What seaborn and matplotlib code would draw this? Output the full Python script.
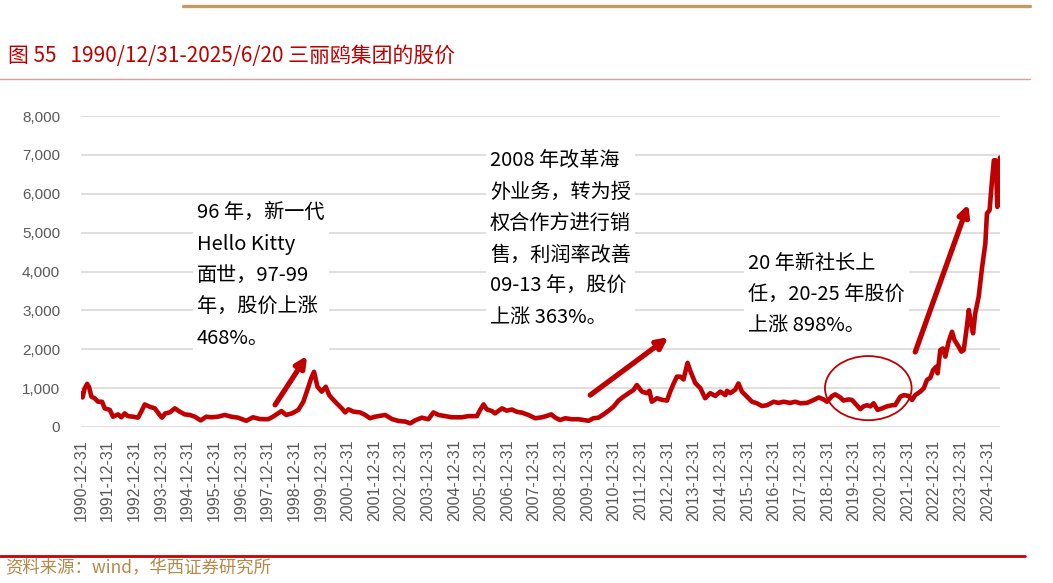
import matplotlib.pyplot as plt
import pandas as pd
import seaborn as sns
from matplotlib.lines import Line2D
from matplotlib.patches import Ellipse

# 股价走势，x 为年份小数
years = [
    1991.00, 1991.06, 1991.13, 1991.23, 1991.30, 1991.39, 1991.51, 1991.64, 1991.79, 1991.89,
    1992.08, 1992.20, 1992.39, 1992.51, 1992.64, 1992.76, 1992.95, 1993.14, 1993.26, 1993.39,
    1993.58, 1993.77, 1993.95, 1994.04, 1994.16, 1994.33, 1994.52, 1994.70, 1994.89, 1995.08,
    1995.27, 1995.49, 1995.70, 1995.89, 1996.14, 1996.39, 1996.64, 1996.89, 1997.20, 1997.45,
    1997.71, 1998.02, 1998.20, 1998.39, 1998.52, 1998.70, 1998.91, 1999.15, 1999.34, 1999.53,
    1999.63, 1999.74, 1999.87, 2000.03, 2000.18, 2000.31, 2000.41, 2000.59, 2000.78, 2000.91,
    2001.03, 2001.22, 2001.47, 2001.66, 2001.84, 2002.03, 2002.41, 2002.66, 2002.91, 2003.16,
    2003.35, 2003.53, 2003.78, 2004.03, 2004.22, 2004.41, 2004.66, 2004.91, 2005.29, 2005.53,
    2005.85, 2005.97, 2006.10, 2006.22, 2006.41, 2006.53, 2006.79, 2006.97, 2007.16, 2007.35,
    2007.54, 2007.78, 2008.04, 2008.29, 2008.47, 2008.64, 2008.79, 2008.97, 2009.16, 2009.41,
    2009.66, 2009.85, 2010.04, 2010.22, 2010.41, 2010.60, 2010.79, 2010.97, 2011.16, 2011.35,
    2011.54, 2011.72, 2011.85, 2012.04, 2012.23, 2012.32, 2012.41, 2012.60, 2012.79, 2012.98,
    2013.10, 2013.23, 2013.35, 2013.48, 2013.60, 2013.75, 2013.85, 2014.04, 2014.23, 2014.41,
    2014.60, 2014.79, 2014.98, 2015.17, 2015.23, 2015.35, 2015.54, 2015.66, 2015.79, 2015.98,
    2016.17, 2016.35, 2016.54, 2016.73, 2016.98, 2017.16, 2017.35, 2017.60, 2017.79, 2017.98,
    2018.23, 2018.48, 2018.67, 2018.85, 2018.98, 2019.17, 2019.29, 2019.48, 2019.60, 2019.79,
    2019.92, 2020.10, 2020.23, 2020.35, 2020.48, 2020.61, 2020.73, 2020.88, 2021.05, 2021.23,
    2021.42, 2021.54, 2021.73, 2021.86, 2022.04, 2022.17, 2022.29, 2022.48, 2022.61, 2022.73,
    2022.86, 2022.96, 2023.08, 2023.13, 2023.23, 2023.33, 2023.42, 2023.54, 2023.67, 2023.76,
    2023.88, 2024.02, 2024.11, 2024.21, 2024.30, 2024.38, 2024.46, 2024.54, 2024.67, 2024.80,
    2024.92, 2024.98, 2025.08, 2025.16, 2025.24, 2025.31, 2025.37, 2025.43, 2025.47,
]
prices = [
    870, 760, 980, 1110, 1030, 780, 740, 650, 650, 480,
    440, 265, 325, 250, 350, 280, 265, 240, 395, 580,
    520, 480, 310, 240, 350, 375, 480, 395, 325, 310,
    265, 170, 265, 250, 265, 310, 265, 240, 160, 250,
    205, 200, 265, 350, 410, 310, 350, 440, 650, 1035,
    1250, 1420, 1035, 910, 1035, 820, 740, 610, 480, 375,
    455, 395, 375, 310, 225, 265, 310, 205, 155, 140,
    95, 170, 240, 200, 375, 310, 280, 250, 250, 280,
    280, 440, 580, 455, 410, 350, 480, 420, 450, 390,
    370, 310, 225, 250, 285, 325, 240, 180, 225, 200,
    200, 180, 160, 225, 240, 325, 420, 520, 680, 780,
    870, 950, 1080, 910, 870, 930, 650, 740, 700, 680,
    910, 1120, 1295, 1295, 1225, 1650, 1450, 1130, 1000, 740,
    870, 800, 910, 820, 930, 870, 960, 1120, 910, 780,
    650, 610, 540, 560, 650, 620, 650, 620, 650, 610,
    620, 695, 760, 710, 650, 795, 840, 760, 680, 710,
    695, 560, 460, 530, 560, 530, 610, 440, 480, 530,
    560, 565, 780, 820, 800, 695, 820, 910, 995, 1210,
    1270, 1465, 1550, 1380, 1980, 2020, 1810, 2190, 2450, 2240,
    2110, 1940, 1980, 2490, 3010, 2665, 2410, 2920, 3350, 4120,
    4720, 5490, 5580, 6260, 6860, 6860, 5660, 6260, 6930,
]

tick_years = list(range(1991, 2026))
tick_labels = [f"{y - 1}-12-31" for y in tick_years]
y_ticks = [0, 1000, 2000, 3000, 4000, 5000, 6000, 7000, 8000]

title = "图 55   1990/12/31-2025/6/20 三丽鸥集团的股价"
source = "资料来源：wind，华西证券研究所"
note_1 = ["96 年，新一代", "Hello Kitty", "面世，97-99", "年，股价上涨", "468%。"]
note_2 = ["2008 年改革海", "外业务，转为授", "权合作方进行销", "售，利润率改善", "09-13 年，股价", "上涨 363%。"]
note_3 = ["20 年新社长上", "任，20-25 年股价", "上涨 898%。"]

RED = '#C00000'
GRAY = '#595959'
W, H = 1053, 583

sns.set_theme(style="white")
plt.rcParams['font.family'] = ['Noto Sans CJK SC', 'DejaVu Sans']

df = pd.DataFrame({'year': years, 'price': prices})

fig = plt.figure(figsize=(W / 100, H / 100), dpi=100)
ax = fig.add_axes([81 / W, 1 - 427 / H, (1000 - 81) / W, 311 / H])

sns.lineplot(data=df, x='year', y='price', ax=ax, color=RED, linewidth=3.3, zorder=3)

ax.set_xlim(1991, 2025.47)
ax.set_ylim(0, 8000)
ax.set_xlabel("")
ax.set_ylabel("")
ax.set_yticks(y_ticks)
ax.set_yticklabels([f"{v:,}" for v in y_ticks], fontfamily='Liberation Sans')
ax.set_xticks(tick_years)
ax.set_xticklabels(tick_labels, rotation=90, fontfamily='Liberation Sans')
ax.tick_params(axis='x', length=0, pad=9, labelsize=11.5, labelcolor=GRAY)
ax.tick_params(axis='y', length=0, pad=15, labelsize=11, labelcolor=GRAY)
ax.grid(axis='y', color='#D9D9D9', linewidth=1.2)
ax.grid(axis='x', visible=False)
for s in ax.spines.values():
    s.set_visible(False)

# 箭头和圆圈
arrows = [((1998.28, 570), (1999.48, 1830)),
          ((2010.10, 820), (2013.03, 2310)),
          ((2022.29, 1930), (2024.28, 5730))]
for start, end in arrows:
    ax.annotate('', xy=end, xytext=start,
                arrowprops=dict(arrowstyle='-|>', color=RED, lw=3.8, mutation_scale=16,
                                shrinkA=0, shrinkB=0))
ax.add_patch(Ellipse((2020.53, 1000), 3.25, 1650, fill=False, edgecolor=RED, lw=1.3, zorder=4))

# 文字说明
for x0, y0, lines in [(197, 202, note_1), (490, 150, note_2), (748, 253, note_3)]:
    fig.text(x0 / W, 1 - y0 / H, "\n".join(lines), ha='left', va='top', fontsize=14.5,
             linespacing=1.66, color='black',
             bbox=dict(facecolor='white', edgecolor='none', pad=3))

# 标题、线条、来源
fig.add_artist(Line2D([183 / W, 1030 / W], [1 - 6 / H] * 2, color='#C39A5F', lw=2.4))
fig.text(8 / W, 1 - 56 / H, title, ha='left', va='center', fontsize=15, color=RED)
fig.add_artist(Line2D([0, 1030 / W], [1 - 79 / H] * 2, color='#E49A9A', lw=1.0))
fig.add_artist(Line2D([0, 1025 / W], [1 - 556 / H] * 2, color='#CC0000', lw=2.0))
fig.text(5 / W, 1 - 568 / H, source, ha='left', va='center', fontsize=12.5, color='#B48848')

plt.savefig('out.png', dpi=100)
